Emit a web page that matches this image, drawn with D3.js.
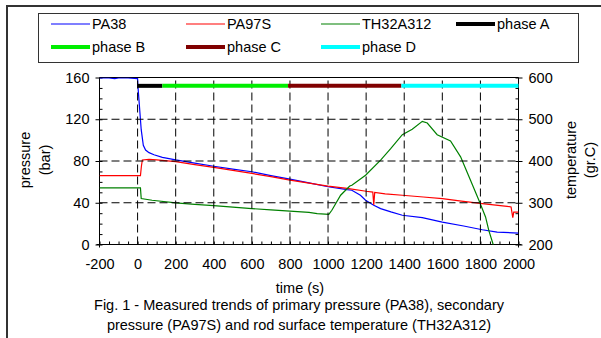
<!DOCTYPE html>
<html>
<head>
<meta charset="utf-8">
<script src="https://cdn.jsdelivr.net/npm/d3@7"></script>
<style>
  body { margin: 0; background: #fff; }
  text { font-family: "Liberation Sans", Arial, sans-serif; fill: #000; }
</style>
</head>
<body>
<script>
// valeurs
var timeTicks = [-200, 0, 200, 400, 600, 800, 1000, 1200, 1400, 1600, 1800, 2000];
var pressureTicks = [0, 40, 80, 120, 160];
var tempTicks = [200, 300, 400, 500, 600];

// PA38 : pression primaire (bar)
var pa38 = [[-200,159.5],[-150,159.5],[-120,159],[-100,159.5],[-50,159.5],[0,159],[2,151],[7,139],[19,110],
  [30,95],[42,90.5],[60,88],[86,86],[130,83.5],[200,81],[300,78],[400,75],[500,72.3],[600,69.7],
  [700,66],[800,62.6],[900,59],[1000,55.3],[1100,52.5],[1125,52],[1170,47.2],[1197,42.4],[1240,37.6],
  [1276,34.4],[1330,31.2],[1390,28],[1495,25.7],[1600,21.5],[1712,17.7],[1810,14.1],[1888,11.9],[2000,10.9]];

// PA97S : pression secondaire (bar)
var pa97s = [[-200,66],[15,66],[20,75],[25,81],[60,81.5],[100,81],[200,79.4],[300,76.5],[400,73.9],
  [500,71],[600,68.1],[700,65],[800,61.7],[900,58.8],[1000,55.9],[1100,53.7],[1200,51],[1235,50.2],
  [1240,38],[1245,49.8],[1300,48.5],[1390,47.2],[1500,45.5],[1600,44],[1700,41.5],[1810,39.2],
  [1940,36.6],[1961,36],[1970,25.7],[1975,31],[1990,31],[2000,31]];

// TH32A312 : température de gaine (gr.C)
var th32 = [[-200,335.5],[15,335.5],[19,310],[76,306],[200,299.5],[300,296],[400,293],[500,289.5],
  [600,286],[700,283],[800,280],[900,277],[943,274],[1004,272],[1020,282],[1066,318],[1114,340],
  [1125,342],[1197,366],[1276,402],[1330,430],[1390,463],[1442,476],[1495,495],[1521,491],[1573,463],
  [1643,448],[1696,410],[1748,354],[1792,306],[1827,266],[1844,234],[1867,200],[1875,180]];

// phases (début, fin en s) tracées au niveau 152 bar
var phaseLevel = 152;
var phases = [
  {name: "phase A", start: 0, end: 130, color: "#000000"},
  {name: "phase B", start: 130, end: 790, color: "#00ee00"},
  {name: "phase C", start: 790, end: 1385, color: "#800000"},
  {name: "phase D", start: 1385, end: 2000, color: "#00ffff"}
];

var series = [
  {name: "PA38", data: pa38, color: "#0000ff", axis: "p"},
  {name: "PA97S", data: pa97s, color: "#ff0000", axis: "p"},
  {name: "TH32A312", data: th32, color: "#008000", axis: "t"}
];

var svg = d3.select("body").append("svg")
  .attr("width", 601)
  .attr("height", 338);

// cadre de la figure
svg.append("rect").attr("x", 6).attr("y", 5).attr("width", 2).attr("height", 333).attr("fill", "#333");
svg.append("rect").attr("x", 6).attr("y", 5).attr("width", 595).attr("height", 2).attr("fill", "#333");

var pLeft = 99.5, pRight = 518.5, pTop = 77.5, pBottom = 244.5;

var x = d3.scaleLinear().domain([-200, 2000]).range([pLeft, pRight]);
var y = d3.scaleLinear().domain([0, 160]).range([pBottom, pTop]);
var y2 = d3.scaleLinear().domain([200, 600]).range([pBottom, pTop]);

svg.append("clipPath").attr("id", "plotclip")
  .append("rect").attr("x", pLeft).attr("y", pTop).attr("width", pRight - pLeft).attr("height", pBottom - pTop);

// axes
var fmt = d => String(d);
var xAxis = d3.axisBottom(x).tickValues(timeTicks).tickSize(0).tickPadding(14).tickFormat(fmt);
var xMinor = d3.axisBottom(x).tickValues(d3.range(-200, 2001, 50)).tickSize(-3).tickFormat("");
var yAxis = d3.axisLeft(y).tickValues(pressureTicks).tickSize(4).tickPadding(6).tickFormat(fmt);
var yMinor = d3.axisLeft(y).tickValues(d3.range(0, 161, 10)).tickSize(-3).tickFormat("");
var y2Axis = d3.axisRight(y2).tickValues(tempTicks).tickSize(4).tickPadding(6).tickFormat(fmt);
var y2Minor = d3.axisRight(y2).tickValues(d3.range(200, 601, 25)).tickSize(-3).tickFormat("");

function style(g) {
  g.selectAll("line").attr("stroke", "#000");
  g.selectAll("text").attr("font-size", 14.5).attr("font-family", "Liberation Sans, Arial, sans-serif").attr("fill", "#000");
}

svg.append("g").attr("transform", "translate(0," + pBottom + ")").call(xMinor).call(style);
svg.append("g").attr("transform", "translate(0," + pBottom + ")").call(xAxis).call(style);
svg.append("g").attr("transform", "translate(" + pLeft + ",0)").call(yMinor).call(style);
svg.append("g").attr("transform", "translate(" + pLeft + ",0)").call(yAxis).call(style);
svg.append("g").attr("transform", "translate(" + pRight + ",0)").call(y2Minor).call(style);
svg.append("g").attr("transform", "translate(" + pRight + ",0)").call(y2Axis).call(style);
svg.selectAll(".domain").remove();

var frame = svg.append("g").attr("stroke", "#000");
frame.append("line").attr("x1", pLeft).attr("x2", pRight).attr("y1", pTop).attr("y2", pTop);
frame.append("line").attr("x1", pLeft - 3).attr("x2", pRight + 3).attr("y1", pBottom).attr("y2", pBottom);
frame.append("line").attr("x1", pLeft).attr("x2", pLeft).attr("y1", pTop).attr("y2", pBottom + 3);
frame.append("line").attr("x1", pRight).attr("x2", pRight).attr("y1", pTop).attr("y2", pBottom + 3);

// courbes
var plot = svg.append("g").attr("clip-path", "url(#plotclip)");
series.forEach(function(s) {
  var sy = s.axis === "p" ? y : y2;
  var line = d3.line().x(d => x(d[0])).y(d => sy(d[1]));
  plot.append("path").datum(s.data)
    .attr("d", line)
    .attr("fill", "none")
    .attr("stroke", s.color)
    .attr("stroke-width", 1.2);
});

// grille pointillée, tracée par-dessus
var grid = svg.append("g");
grid.selectAll("line.vg").data(timeTicks.slice(1, -1)).enter().append("line")
  .attr("class", "vg")
  .attr("x1", d => x(d)).attr("x2", d => x(d))
  .attr("y1", pBottom).attr("y2", pTop + 1)
  .attr("stroke", "#000").attr("stroke-width", 1).attr("stroke-dasharray", "8,4");
grid.selectAll("line.hg").data(pressureTicks.slice(1, -1)).enter().append("line")
  .attr("class", "hg")
  .attr("x1", pLeft).attr("x2", pRight)
  .attr("y1", d => y(d)).attr("y2", d => y(d))
  .attr("stroke", "#000").attr("stroke-width", 1).attr("stroke-dasharray", "8,4");

// barres de phases
svg.selectAll("line.phase").data(phases).enter().append("line")
  .attr("class", "phase")
  .attr("x1", d => x(d.start)).attr("x2", d => x(d.end))
  .attr("y1", y(phaseLevel)).attr("y2", y(phaseLevel))
  .attr("stroke", d => d.color).attr("stroke-width", 4);

// titres
svg.append("text").attr("transform", "translate(30,160) rotate(-90)")
  .attr("text-anchor", "middle").attr("font-size", 14.5).text("pressure");
svg.append("text").attr("transform", "translate(50,160) rotate(-90)")
  .attr("text-anchor", "middle").attr("font-size", 14.5).text("(bar)");
svg.append("text").attr("transform", "translate(576,160) rotate(-90)")
  .attr("text-anchor", "middle").attr("font-size", 14.5).text("temperature");
svg.append("text").attr("transform", "translate(595,160) rotate(-90)")
  .attr("text-anchor", "middle").attr("font-size", 14.5).text("(gr.C)");

svg.append("text").attr("x", 300).attr("y", 293).attr("text-anchor", "middle")
  .attr("font-size", 14.5).text("time (s)");
svg.append("text").attr("x", 299).attr("y", 310).attr("text-anchor", "middle")
  .attr("font-size", 14.5).text("Fig. 1 - Measured trends of primary pressure (PA38), secondary");
svg.append("text").attr("x", 299).attr("y", 330).attr("text-anchor", "middle")
  .attr("font-size", 14.5).text("pressure (PA97S) and rod surface temperature (TH32A312)");

// légende
svg.append("rect").attr("x", 38.5).attr("y", 13.5).attr("width", 540).attr("height", 49)
  .attr("fill", "#fff").attr("stroke", "#333");
var legendItems = series.map(s => ({name: s.name, color: s.color, w: 1.2}))
  .concat(phases.map(p => ({name: p.name, color: p.color, w: 4})));
var leg = svg.selectAll("g.leg").data(legendItems).enter().append("g")
  .attr("class", "leg")
  .attr("transform", (d, i) => "translate(" + (51 + (i % 4) * 135) + "," + (24 + Math.floor(i / 4) * 23) + ")");
leg.append("line").attr("x1", 0).attr("x2", 39).attr("y1", 0).attr("y2", 0)
  .attr("stroke", d => d.color).attr("stroke-width", d => d.w);
leg.append("text").attr("x", 41).attr("y", 5).attr("font-size", 14.5).text(d => d.name);
</script>
</body>
</html>
